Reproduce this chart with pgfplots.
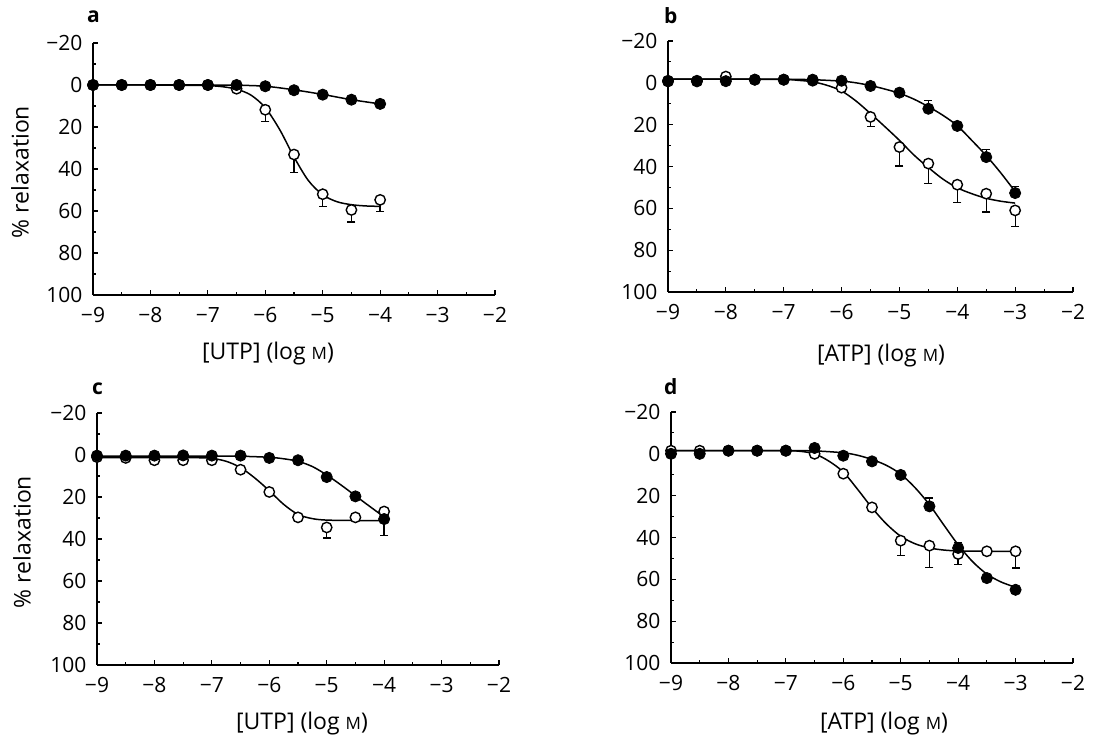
\documentclass[border=0pt]{standalone}
\usepackage{fontspec}
\setmainfont{Open Sans}
\usepackage{pgfplots}
\pgfplotsset{compat=1.18}
\pgfplotsset{
 panel/.style={
  scale only axis, anchor=south west,
  xmin=-9, xmax=-2, ymin=-20, ymax=100, y dir=reverse,
  axis x line=bottom, axis y line=left,
  axis line style={line width=1.5pt, -},
  xtick={-9,-8,-7,-6,-5,-4,-3,-2},
  xticklabels={−9,−8,−7,−6,−5,−4,−3,−2},
  minor xtick={-8.5,-7.5,-6.5,-5.5,-4.5,-3.5,-2.5},
  ytick={-20,0,20,40,60,80,100},
  yticklabels={−20,0,20,40,60,80,100},
  minor ytick={-10,10,30,50,70,90},
  tick align=inside, major tick length=5pt, minor tick length=3pt,
  every tick/.style={line width=1.1pt, black},
  tick label style={font=\fontsize{21}{21}\selectfont},
  xticklabel style={yshift=-9pt},
  yticklabel style={xshift=-7pt},
  clip=false,
 },
 curve/.style={smooth, line width=1.5pt, black, mark=none},
 filled/.style={only marks, mark=*, mark size=5.6pt, mark options={fill=black, draw=black, line width=0.8pt}},
 open/.style={only marks, mark=*, mark size=5.2pt, mark options={fill=white, draw=black, line width=1.4pt}},
 ebar/.style={only marks, mark=none, black,
   error bars/.cd, y dir=both, y explicit,
   error bar style={line width=1.3pt, black},
   error mark options={rotate=90, mark size=4pt, line width=1.3pt, black}},
}
\newcommand{\smallM}{{\fontsize{17}{17}\selectfont M}}
\begin{document}
\begin{tikzpicture}
\path[use as bounding box] (0,0) rectangle (1117pt,738pt);

% ---------- panel a ----------
\begin{axis}[panel, at={(93pt,443pt)}, width=402pt, height=252pt]
\addplot[curve] coordinates {(-9,0)(-8,0)(-7.5,0.1)(-7,0.3)(-6.75,0.8)(-6.5,2.0)(-6.25,4.8)(-6,10.8)(-5.75,21.2)(-5.5,34.3)(-5.25,45.5)(-5,52.3)(-4.75,55.6)(-4.5,57)(-4.25,57.6)(-4,57.8)};
\addplot[curve] coordinates {(-9,0)(-8,0)(-7,0)(-6.5,0.1)(-6,0.6)(-5.5,2.3)(-5,4.5)(-4.5,7)(-4,9)};
\addplot[ebar] table[x=x,y=y,y error plus=ep,y error minus=em] {
x y ep em
-6 11.8 5.6 0
-5.5 33.1 8.7 0
-5 52 6 0
-4.5 59.5 5.8 0
-4 54.7 5.5 0
};
\addplot[open] coordinates {(-9,0)(-8.5,0)(-8,0)(-7.5,0)(-7,0)(-6.5,1.8)(-6,11.8)(-5.5,33.1)(-5,52)(-4.5,59.5)(-4,54.7)};
\addplot[filled] coordinates {(-9,0)(-8.5,0)(-8,0)(-7.5,0)(-7,0)(-6.5,0)(-6,0.6)(-5.5,2.5)(-5,4.6)(-4.5,7)(-4,9)};
\end{axis}

% ---------- panel b ----------
\begin{axis}[panel, at={(668pt,446pt)}, width=405pt, height=251pt]
\addplot[curve] coordinates {(-9,-1.8)(-8,-1.8)(-7,-1.6)(-6.75,-1.2)(-6.5,-0.5)(-6.25,1.2)(-6,3.9)(-5.75,8.7)(-5.5,14.7)(-5.25,21)(-5,27.5)(-4.75,34.5)(-4.5,40.5)(-4.25,46)(-4,50.2)(-3.75,53)(-3.5,55.2)(-3.25,56.6)(-3,57.5)};
\addplot[curve] coordinates {(-9,-1.8)(-8,-1.8)(-7,-1.7)(-6.5,-1.5)(-6,-0.8)(-5.75,0)(-5.5,1.3)(-5.25,3)(-5,5)(-4.75,7.8)(-4.5,11.4)(-4.25,15.5)(-4,20.5)(-3.75,27.5)(-3.5,34.8)(-3.25,43)(-3,52)};
\addplot[ebar] table[x=x,y=y,y error plus=ep,y error minus=em] {
x y ep em
-5.5 16.3 4.7 0
-5 30.7 9 0
-4.5 38.6 9.6 0
-4 48.7 8.6 0
-3.5 53 8.8 0
-3 61 7.6 0
-4.5 12.4 0 4
-3.5 35.5 0 3.5
-3 52.7 0 3
};
\addplot[open] coordinates {(-9,-1)(-8.5,-1)(-8,-3)(-7.5,-1.5)(-7,-1.5)(-6.5,-1)(-6,2.3)(-5.5,16.3)(-5,30.7)(-4.5,38.6)(-4,48.7)(-3.5,53)(-3,61)};
\addplot[filled] coordinates {(-9,-0.7)(-8.5,-0.7)(-8,-0.8)(-7.5,-1.5)(-7,-1.5)(-6.5,-1.5)(-6,-1)(-5.5,1.5)(-5,4.7)(-4.5,12.4)(-4,20.6)(-3.5,35.5)(-3,52.7)};
\end{axis}

% ---------- panel c ----------
\begin{axis}[panel, at={(97pt,73pt)}, width=402pt, height=252pt]
\addplot[curve] coordinates {(-9,1.2)(-8,1.2)(-7.25,1.3)(-7,1.6)(-6.75,3)(-6.5,6)(-6.25,11)(-6,17)(-5.75,23.5)(-5.5,28.3)(-5.25,30.3)(-5,31)(-4.5,31.2)(-4,31.2)};
\addplot[curve] coordinates {(-9,0.5)(-8,0.5)(-7,0.5)(-6.5,0.6)(-6,1.1)(-5.75,1.8)(-5.5,3)(-5.25,5.5)(-5,9.5)(-4.75,14.3)(-4.5,19.4)(-4.25,24.5)(-4,29.5)};
\addplot[ebar] table[x=x,y=y,y error plus=ep,y error minus=em] {
x y ep em
-5 34.5 5 0
-4 26.9 0 2
-4 30.5 7.8 0
};
\addplot[open] coordinates {(-9,1)(-8.5,1.4)(-8,2.5)(-7.5,2.5)(-7,2.5)(-6.5,7)(-6,17.6)(-5.5,29.7)(-5,34.5)(-4.5,29.7)(-4,26.9)};
\addplot[filled] coordinates {(-9,0.3)(-8.5,0.3)(-8,0.3)(-7.5,0.2)(-7,0.3)(-6.5,0.3)(-6,1.4)(-5.5,2.5)(-5,10.5)(-4.5,19.7)(-4,30.5)};
\end{axis}

% ---------- panel d ----------
\begin{axis}[panel, at={(671pt,75pt)}, width=402pt, height=251pt]
\addplot[curve] coordinates {(-9,-1.5)(-8,-1.5)(-7,-1.5)(-6.75,-1.2)(-6.5,0)(-6.25,3.5)(-6,8.7)(-5.75,17)(-5.5,25.8)(-5.25,33.5)(-5,39.4)(-4.75,43)(-4.5,45)(-4.25,46)(-4,46.4)(-3.5,46.6)(-3,46.6)};
\addplot[curve] coordinates {(-9,-1.5)(-8,-1.5)(-7,-1.5)(-6.5,-1.4)(-6,-0.5)(-5.75,0.7)(-5.5,2.7)(-5.25,5.5)(-5,9.7)(-4.75,16.2)(-4.5,24.3)(-4.25,34)(-4,43.5)(-3.75,51.5)(-3.5,57.5)(-3.25,61.3)(-3,63.8)};
\addplot[ebar] table[x=x,y=y,y error plus=ep,y error minus=em] {
x y ep em
-5 41.5 7 0
-4.5 43.9 10.4 0
-4 47.9 5.1 0
-3 46.6 8 0
-4.5 25.1 0 4
-4 45 0 2.7
};
\addplot[open] coordinates {(-9,-1.5)(-8.5,-1.5)(-8,-1.5)(-7.5,-1.5)(-7,-1.5)(-6.5,0)(-6,9.5)(-5.5,25.6)(-5,41.5)(-4.5,43.9)(-4,47.9)(-3.5,46.6)(-3,46.6)};
\addplot[filled] coordinates {(-9,0)(-8.5,0)(-8,-1.5)(-7.5,-1.5)(-7,-1.5)(-6.5,-2.8)(-6,0.9)(-5.5,3.6)(-5,10.1)(-4.5,25.1)(-4,45)(-3.5,59.4)(-3,65)};
\end{axis}

% ---------- labels ----------
\tikzset{lab/.style={font=\fontsize{21}{21}\selectfont\bfseries, anchor=base west, inner sep=0pt}}
\node[lab] at (87pt,715pt) {a};
\node[lab] at (664pt,714pt) {b};
\node[lab] at (92pt,343pt) {c};
\node[lab] at (664pt,343pt) {d};

\tikzset{xl/.style={font=\fontsize{23}{23}\selectfont, anchor=base, inner sep=0pt}}
\node[xl] at (268pt,378pt) {[UTP] (log \smallM)};
\node[xl] at (881pt,376pt) {[ATP] (log \smallM)};
\node[xl] at (302pt,8pt) {[UTP] (log \smallM)};
\node[xl] at (884pt,8pt) {[ATP] (log \smallM)};

\tikzset{yl/.style={font=\fontsize{23}{23}\selectfont, rotate=90, anchor=center, inner sep=0pt}}
\node[yl] at (20pt,566pt) {\% relaxation};
\node[yl] at (22pt,196pt) {\% relaxation};
\end{tikzpicture}
\end{document}
